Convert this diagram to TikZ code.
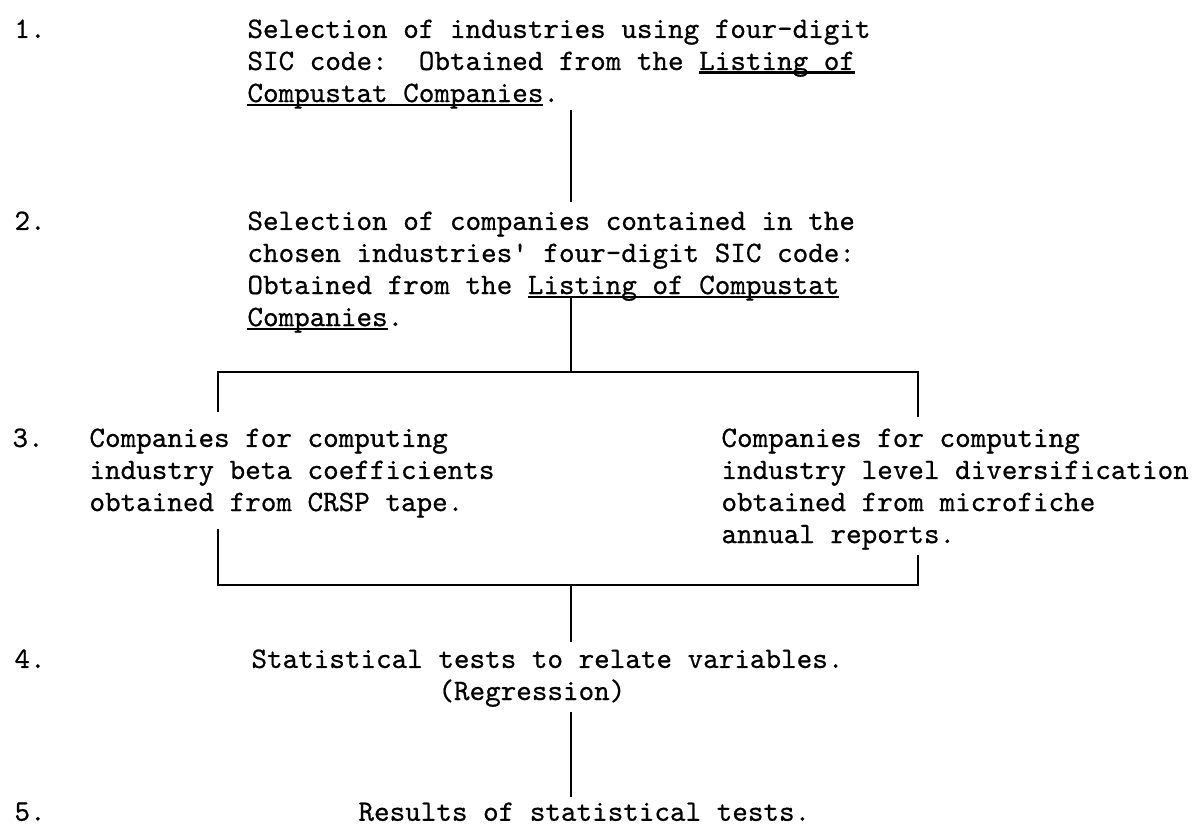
\documentclass[tikz,border=0pt]{standalone}
\usepackage{fontspec}
\usepackage{tikz}
\usetikzlibrary{positioning,calc}
\setmonofont{lmmono10-regular.otf}[FakeBold=0.6]
\newcommand\typeface{\ttfamily\fontsize{21.1pt}{22.8pt}\selectfont\frenchspacing}
\newcommand\tul[1]{\setbox0\hbox{#1}\rlap{\rule[-0.12em]{\wd0}{0.07em}}\box0}

\begin{document}
\begin{tikzpicture}[
      x=0.025cm, y=-0.025cm,
      line width=2.1pt, line cap=butt, line join=miter,
      every node/.style={inner sep=0pt, anchor=north west, align=left, font=\typeface}
    ]
    \useasboundingbox (0,0) rectangle (1196,827);

    % ------------------ Layout ------------------
    \def\numX{13}
    \def\textX{246}
    \def\midX{571}
    \def\busL{218}
    \def\busR{918}
    \def\busTop{372}
    \def\busBot{585}

    % ------------------ Steps ------------------
    \node (n1) at (\numX,18) {1.};
    \node (b1) at (\textX,18)
    {Selection of industries using four-digit\\
     SIC code:\ \ Obtained from the \tul{Listing of}\\
     \tul{Compustat Companies}.};

    \node (n2) at (\numX,210) {2.};
    \node (b2) at (\textX,210)
    {Selection of companies contained in the\\
     chosen industries\textquotesingle{} four-digit SIC code:\\
     Obtained from the \tul{Listing of Compustat}\\
     \tul{Companies}.};

    \node (n3) at (11,427) {3.};
    \node (b3l) at (88,427)
    {Companies for computing\\
     industry beta coefficients\\
     obtained from CRSP tape.};
    \node (b3r) at (720,427)
    {Companies for computing\\
     industry level diversification\\
     obtained from microfiche\\
     annual reports.};

    \node (n4) at (\numX,648) {4.};
    \node (b4) at (250,648)
    {Statistical tests to relate variables.\\
     \hspace*{12\fontcharwd\font`x}(Regression)};

    \node (n5) at (\numX,801) {5.};
    \node (b5) at (357,801) {Results of statistical tests.};

    % ------------------ Bus points ------------------
    \coordinate (tap) at (\midX,298);
    \coordinate (split) at (\midX,\busTop);
    \coordinate (splitL) at (\busL,\busTop);
    \coordinate (splitR) at (\busR,\busTop);
    \coordinate (join) at (\midX,\busBot);
    \coordinate (joinL) at (\busL,\busBot);
    \coordinate (joinR) at (\busR,\busBot);

    % ------------------ Connectors ------------------
    \draw[shorten >=5.5pt] (b1.south -| split) -- (b2.north -| split);
    \draw (tap) -- (split);
    \draw[shorten <=10.5pt, shorten >=7pt]
    (splitL |- b3l.north) -- (splitL) -- (splitR) -- (splitR |- b3r.north);
    \draw[shorten <=7pt, shorten >=3pt]
    (b3l.south -| joinL) -- (joinL) -- (joinR) -- (b3r.south -| joinR);
    \draw[shorten >=4pt] (join) -- (join |- b4.north);
    \draw[shorten <=3pt, shorten >=3pt] (b4.south -| join) -- (b5.north -| join);

  \end{tikzpicture}
\end{document}
